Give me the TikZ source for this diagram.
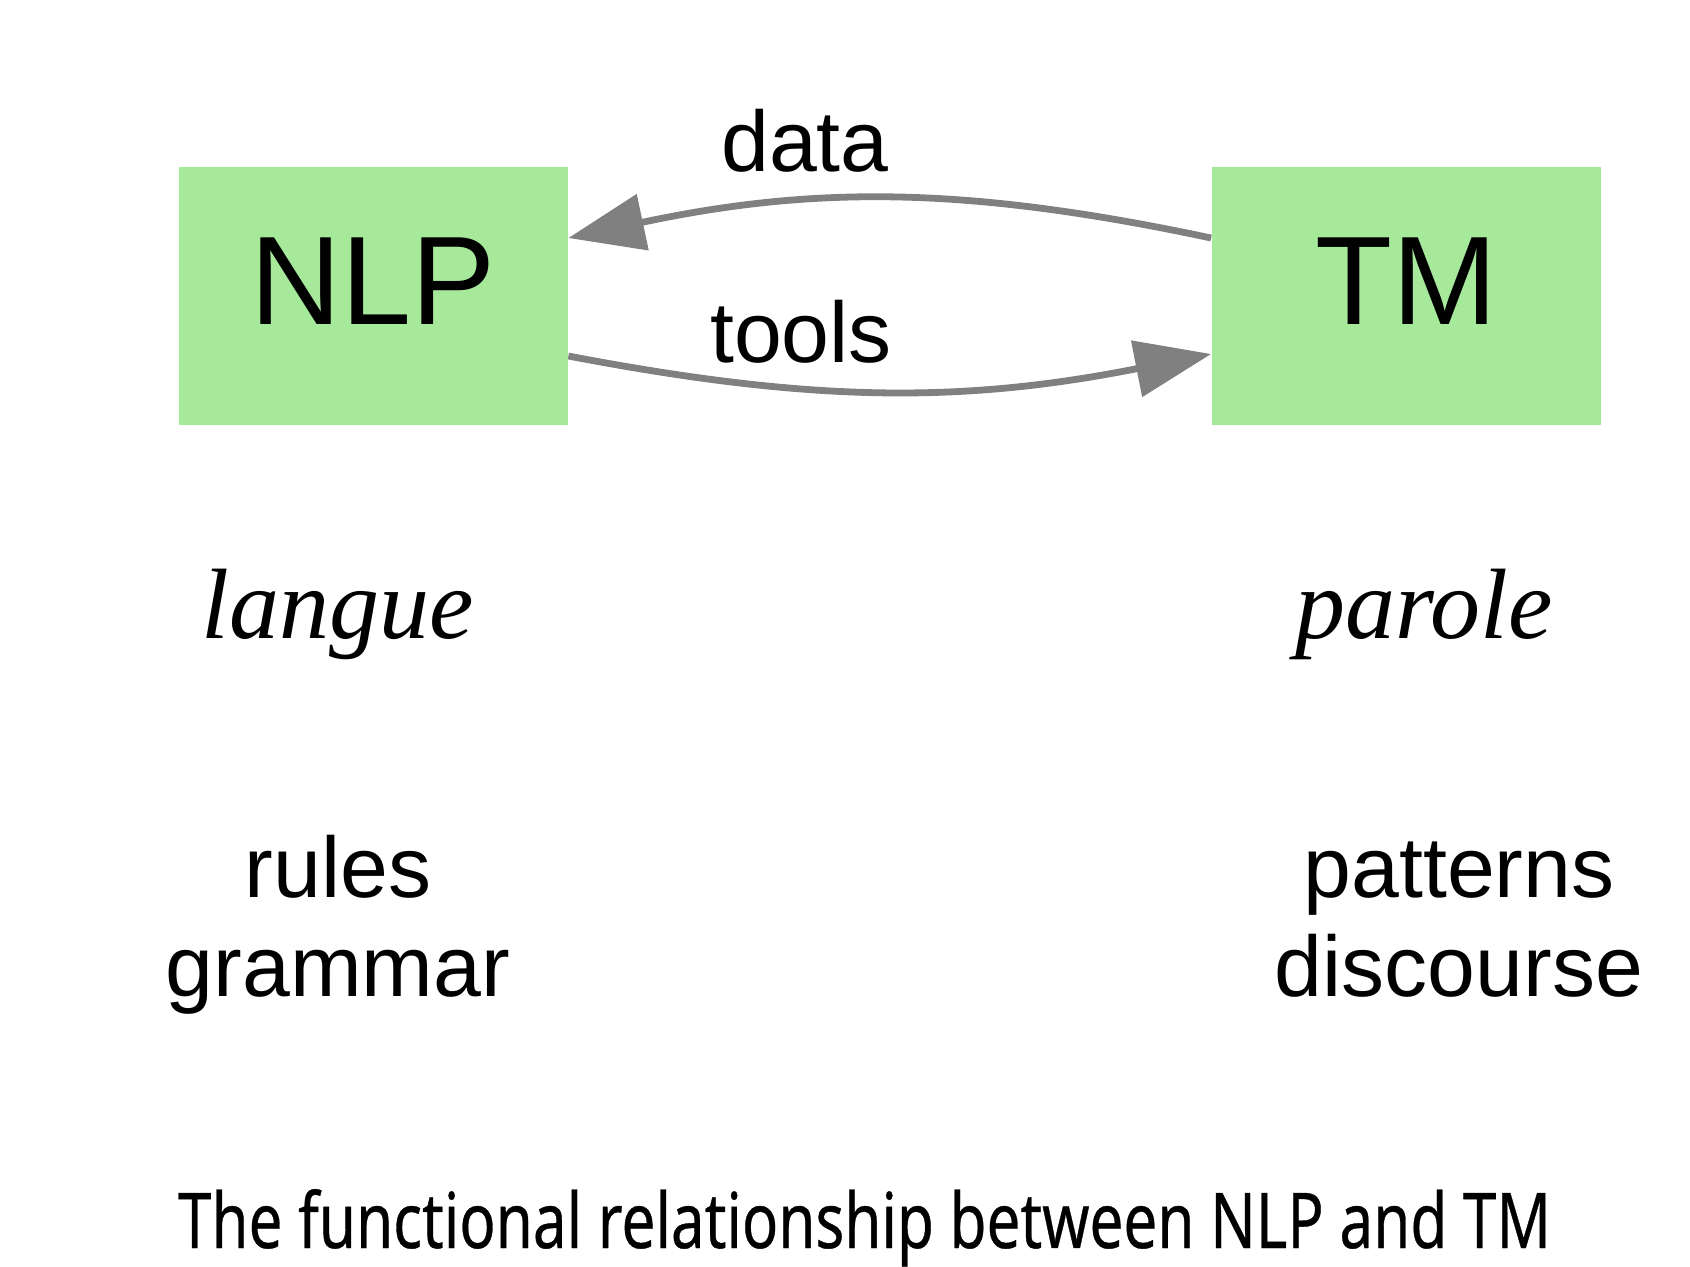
\documentclass[tikz,border=0pt]{standalone}
\usepackage{fontspec}
\setmainfont{Liberation Sans}
\newfontfamily\serifit{Liberation Serif}
\newfontfamily\capfont[FakeBold=0.5]{Noto Sans}
\usetikzlibrary{arrows.meta}
\definecolor{boxgreen}{HTML}{A6E99B}
\definecolor{edgegray}{HTML}{808080}
\tikzset{
  box/.style={fill=boxgreen, draw=none, minimum width=194.5pt, minimum height=129pt,
    inner sep=0pt, text height=46pt, text depth=18pt, font=\fontsize{63}{75}\selectfont},
  edge/.style={draw=edgegray, line width=3.4pt, -{Triangle[length=38pt,width=28pt]}},
  elabel/.style={anchor=base, inner sep=0pt, font=\fontsize{43}{50}\selectfont},
  term/.style={anchor=base, inner sep=0pt, font=\serifit\itshape\fontsize{50}{60}\selectfont},
  words/.style={anchor=base, inner sep=0pt, font=\fontsize{43}{50}\selectfont},
}
\begin{document}
\begin{tikzpicture}[x=0.5pt, y=-0.5pt]
\useasboundingbox (0,0) rectangle (1690,1266);
\node[box] (nlp) at (373.5,296) {NLP};
\node[box] (tm) at (1406,296) {TM};
\draw[edge] ([yshift=29pt]tm.west) to[bend right=12] ([yshift=29pt]nlp.east);
\draw[edge] ([yshift=-30pt]nlp.east) to[bend right=11] ([yshift=-29pt]tm.west);
\node[elabel] (data) at (805,171) {data};
\node[elabel] (tools) at (801,362) {tools};
\node[term] (langue) at (338,638) {langue};
\node[term] (parole) at (1424,638) {parole};
\node[words] (rules) at (338,897) {rules};
\node[words] (grammar) at (338,996) {grammar};
\node[words] (patterns) at (1459,897) {patterns};
\node[words] (discourse) at (1459,996) {discourse};
\node[anchor=base, inner sep=0pt] (caption) at (864.5,1248)
  {\resizebox{686.5pt}{\height}{\capfont\fontsize{38.5}{46}\selectfont The functional relationship between NLP and TM}};
\end{tikzpicture}
\end{document}
